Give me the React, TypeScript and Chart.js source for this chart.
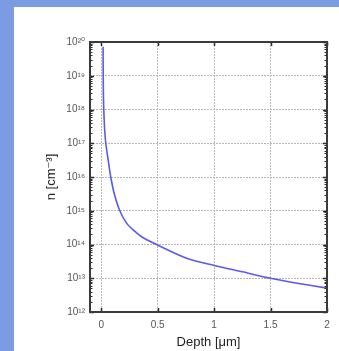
import React, { useEffect, useRef } from "react";
import { Chart, registerables } from "chart.js";

Chart.register(...registerables);

const depthUm = [0.016, 0.017, 0.019, 0.022, 0.03, 0.04, 0.061, 0.084, 0.114, 0.164, 0.224, 0.283, 0.357, 0.49, 0.75, 1.0, 1.25, 1.5, 1.75, 2.0];
const concentration = [7.2e19, 1e19, 2.5e18, 1e18, 2.5e17, 1e17, 3.2e16, 1e16, 3.3e15, 1e15, 4.3e14, 2.7e14, 1.7e14, 1e14, 4.0e13, 2.4e13, 1.55e13, 1e13, 7e12, 5.1e12];
const xTicks = [0, 0.5, 1, 1.5, 2];
const xTickLabels = ["0", "0.5", "1", "1.5", "2"];
const yExponents = [12, 13, 14, 15, 16, 17, 18, 19, 20];
const xTitle = "Depth [μm]";
const yTitle = "n [cm⁻³]";

const SUP: Record<string, string> = { "0": "⁰", "1": "¹", "2": "²", "3": "³", "4": "⁴", "5": "⁵", "6": "⁶", "7": "⁷", "8": "⁸", "9": "⁹", "-": "⁻" };
const sup = (n: number) => String(n).split("").map((c) => SUP[c] || c).join("");

const FONT = "'Liberation Sans', Arial, 'DejaVu Sans', sans-serif";

const framePlugin = {
  id: "frame",
  afterDraw(chart: any) {
    const { ctx, chartArea: a, scales } = chart;
    ctx.save();
    ctx.strokeStyle = "#2a2a2a";
    ctx.lineWidth = 1;
    const y = scales.y;
    ctx.beginPath();
    for (let i = 0; i < yExponents.length - 1; i++) {
      for (let k = 2; k <= 9; k++) {
        const py = Math.round(y.getPixelForValue(k * Math.pow(10, yExponents[i]))) + 0.5;
        ctx.moveTo(a.left, py); ctx.lineTo(a.left + 2.5, py);
        ctx.moveTo(a.right, py); ctx.lineTo(a.right - 2.5, py);
      }
    }
    ctx.stroke();
    ctx.lineWidth = 1.5;
    ctx.beginPath();
    yExponents.forEach((e) => {
      const py = Math.round(y.getPixelForValue(Math.pow(10, e))) + 0.5;
      ctx.moveTo(a.left, py); ctx.lineTo(a.left + 4, py);
      ctx.moveTo(a.right, py); ctx.lineTo(a.right - 4, py);
    });
    const x = scales.x;
    xTicks.forEach((v) => {
      const px = Math.round(x.getPixelForValue(v)) + 0.5;
      ctx.moveTo(px, a.top); ctx.lineTo(px, a.top + 4);
      ctx.moveTo(px, a.bottom); ctx.lineTo(px, a.bottom - 4);
    });
    ctx.stroke();
    ctx.lineWidth = 2;
    ctx.strokeStyle = "#3a3a3a";
    ctx.strokeRect(a.left, a.top, a.right - a.left, a.bottom - a.top);
    ctx.restore();
  },
};

export default function App() {
  const ref = useRef<HTMLCanvasElement | null>(null);
  useEffect(() => {
    if (!ref.current) return;
    const chart = new Chart(ref.current, {
      type: "line",
      data: {
        datasets: [
          {
            data: depthUm.map((d, i) => ({ x: d, y: concentration[i] })),
            borderColor: "#5a5aec",
            borderWidth: 1.6,
            pointRadius: 0,
            fill: false,
            tension: 0.3,
          },
        ],
      },
      options: {
        animation: false,
        responsive: false,
        events: [],
        layout: { padding: { left: 0, top: 42, right: 12, bottom: 0 } },
        plugins: { legend: { display: false }, tooltip: { enabled: false } },
        scales: {
          x: {
            type: "linear",
            min: -0.1,
            max: 2,
            afterBuildTicks: (s: any) => { s.ticks = xTicks.map((v) => ({ value: v })); },
            afterFit: (s: any) => { s.height = 39; },
            ticks: {
              callback: (v: any) => { const i = xTicks.indexOf(Number(v)); return i >= 0 ? xTickLabels[i] : ""; },
              font: { family: FONT, size: 10 },
              color: "#555",
              padding: 7,
              maxRotation: 0,
            },
            grid: { color: "#b8b8b8", drawTicks: false, lineWidth: 1 },
            border: { display: false, dash: [2, 1] },
            title: { display: true, text: xTitle, font: { family: FONT, size: 13 }, color: "#222", padding: { top: 0, bottom: 1 } },
          },
          y: {
            type: "logarithmic",
            min: 1e12,
            max: 1e20,
            afterBuildTicks: (s: any) => { s.ticks = yExponents.map((e) => ({ value: Math.pow(10, e), major: true })); },
            afterFit: (s: any) => { s.width = 90; },
            ticks: {
              callback: (v: any) => "10" + sup(Math.round(Math.log10(Number(v)))),
              font: { family: FONT, size: 10 },
              color: "#555",
              padding: 5,
            },
            grid: { color: "#b8b8b8", drawTicks: false, lineWidth: 1 },
            border: { display: false, dash: [2, 1] },
            title: { display: true, text: yTitle, font: { family: FONT, size: 13 }, color: "#222", padding: { top: 44, bottom: 0 } },
          },
        },
      },
      plugins: [framePlugin],
    } as any);
    return () => chart.destroy();
  }, []);

  return (
    <div style={{ position: "fixed", left: 0, top: 0, width: 339, height: 351, background: "#7b9be3", overflow: "hidden" }}>
      <div style={{ position: "absolute", left: 14, top: 7, right: 0, bottom: 0, background: "#ffffff" }} />
      <canvas ref={ref} width={339} height={351} style={{ position: "absolute", left: 0, top: 0, width: 339, height: 351 }} />
    </div>
  );
}
